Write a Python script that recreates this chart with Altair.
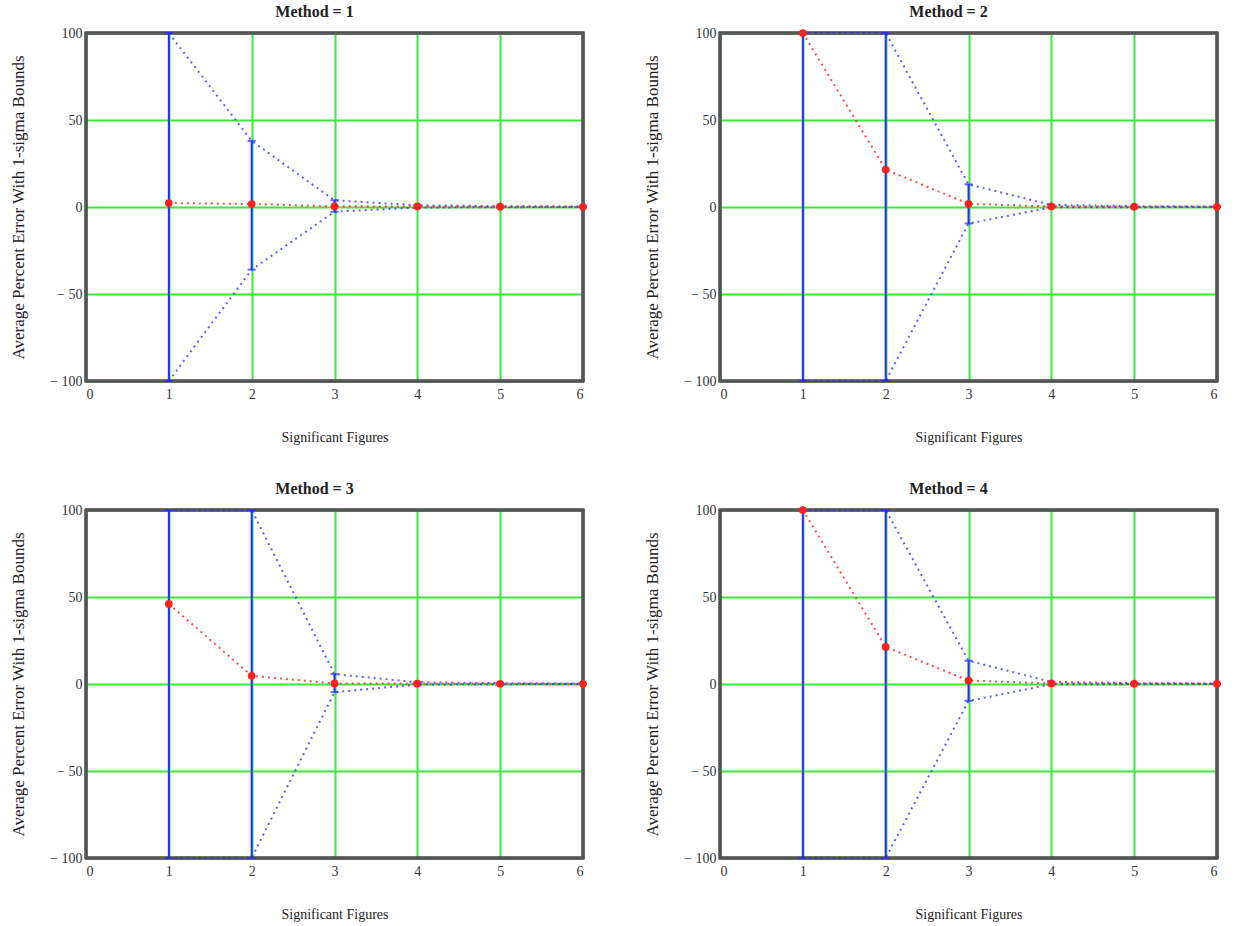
import altair as alt
import pandas as pd

sig_figs = [1, 2, 3, 4, 5, 6]

mean_m1 = [2.3, 1.7, 0.4, 0.3, 0.2, 0.1]
upper_m1 = [100, 38, 3.9, 1.0, 0.5, 0.3]
lower_m1 = [-100, -36, -2.7, -0.3, -0.1, 0.0]

mean_m2 = [100, 21.5, 1.8, 0.3, 0.2, 0.1]
upper_m2 = [100, 100, 13.0, 1.2, 0.5, 0.3]
lower_m2 = [-100, -100, -9.5, -0.2, -0.1, 0.0]

mean_m3 = [46, 4.7, 0.3, 0.2, 0.1, 0.1]
upper_m3 = [100, 100, 5.7, 1.0, 0.5, 0.3]
lower_m3 = [-100, -100, -4.7, -0.3, -0.1, 0.0]

mean_m4 = [100, 21.3, 2.0, 0.3, 0.2, 0.1]
upper_m4 = [100, 100, 13.4, 1.2, 0.5, 0.3]
lower_m4 = [-100, -100, -9.7, -0.2, -0.1, 0.0]

method_names = ["Method = 1", "Method = 2", "Method = 3", "Method = 4"]
x_ticks = [0, 1, 2, 3, 4, 5, 6]
y_ticks = [-100, -50, 0, 50, 100]

W, H = 497, 348
FONT = "Liberation Serif"
GRID = "#3de83d"
BLUE = "#2a2aff"
RED = "#ff2020"


def panel(title, mean, upper, lower):
    df = pd.DataFrame({"sig": sig_figs, "mean": mean, "upper": upper, "lower": lower})
    xs = alt.Scale(domain=[0, 6], nice=False, zero=False)
    ys = alt.Scale(domain=[-100, 100], nice=False)
    xax = alt.Axis(values=x_ticks, grid=True, gridColor=GRID, gridWidth=2, domain=False,
                   ticks=False, labelFont=FONT, labelFontSize=14, labelColor="#333",
                   labelPadding=6, title="Significant Figures", titleFont=FONT,
                   titleFontSize=14, titleFontWeight="normal", titleColor="#222",
                   titlePadding=29, format="d")
    yax = alt.Axis(values=y_ticks, grid=True, gridColor=GRID, gridWidth=2, domain=False,
                   ticks=False, labelFont=FONT, labelFontSize=14, labelColor="#333",
                   labelPadding=4,
                   labelExpr="datum.value < 0 ? '\u2212 ' + abs(datum.value) : '' + datum.value",
                   title="Average Percent Error With 1-sigma Bounds", titleFont=FONT,
                   titleFontSize=17, titleFontWeight="normal", titleColor="#222",
                   titlePadding=22)
    base = alt.Chart(df)
    x = alt.X("sig:Q", scale=xs, axis=xax)
    frame = base.mark_rect(fill=None, stroke="#555555", strokeWidth=2.5).encode(
        x=alt.value(0), x2=alt.value(W), y=alt.value(0), y2=alt.value(H))
    upper_line = base.mark_line(strokeDash=[2, 4], color=BLUE, strokeWidth=2, opacity=0.75).encode(
        x=x, y=alt.Y("upper:Q", scale=ys, axis=yax))
    lower_line = base.mark_line(strokeDash=[2, 4], color=BLUE, strokeWidth=2, opacity=0.75).encode(
        x="sig:Q", y="lower:Q")
    bars = base.mark_rule(color=BLUE, strokeWidth=2).encode(x="sig:Q", y="lower:Q", y2="upper:Q")
    cap_hi = base.mark_tick(orient="horizontal", color=BLUE, size=8, thickness=2).encode(
        x="sig:Q", y="upper:Q")
    cap_lo = base.mark_tick(orient="horizontal", color=BLUE, size=8, thickness=2).encode(
        x="sig:Q", y="lower:Q")
    mean_line = base.mark_line(strokeDash=[2, 4], color=RED, strokeWidth=2, opacity=0.8).encode(
        x="sig:Q", y="mean:Q")
    mean_pts = base.mark_circle(color=RED, size=60, opacity=1).encode(x="sig:Q", y="mean:Q")
    return alt.layer(frame, upper_line, lower_line, bars, cap_hi, cap_lo, mean_line, mean_pts).properties(
        width=W, height=H,
        title=alt.TitleParams(title, font=FONT, fontSize=16, fontWeight="bold", color="#222",
                              anchor="middle", offset=6, dx=-20))


p1 = panel(method_names[0], mean_m1, upper_m1, lower_m1)
p2 = panel(method_names[1], mean_m2, upper_m2, lower_m2)
p3 = panel(method_names[2], mean_m3, upper_m3, lower_m3)
p4 = panel(method_names[3], mean_m4, upper_m4, lower_m4)

chart = alt.concat(
    p1, p2, p3, p4, columns=2,
    spacing={"row": 129, "column": 137}, bounds="flush",
).properties(
    padding={"left": 9, "top": 4, "right": 5, "bottom": 5},
    background="white",
).configure_view(stroke=None)

chart.save("out.html", embed_options={"renderer": "svg", "actions": False})
